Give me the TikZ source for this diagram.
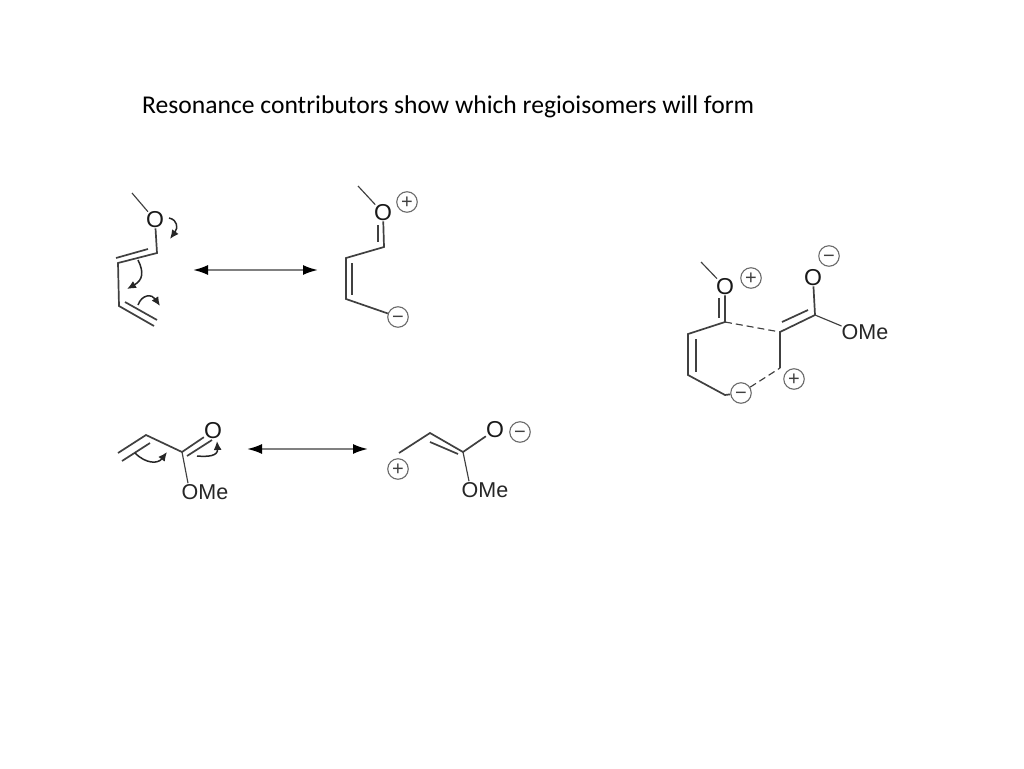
\documentclass[tikz,border=0pt]{standalone}
\usepackage{fontspec}
\setmainfont{Liberation Sans}
\newfontfamily\titlefont{Carlito}
\usetikzlibrary{arrows.meta}
\definecolor{bondc}{gray}{0.25}
\definecolor{ringc}{gray}{0.42}
\tikzset{
  x=1pt,y=-1pt,
  bond/.style={draw=bondc,line width=1.7pt},
  thin bond/.style={draw=bondc,line width=1.15pt},
  dash bond/.style={draw=bondc,line width=1.15pt,dash pattern=on 7pt off 4pt},
  atom/.style={inner sep=0pt,font=\fontsize{23}{23}\selectfont,text=black!90},
  group/.style={inner sep=0pt,font=\fontsize{21.5}{21.5}\selectfont,text=black!85},
  charge/.style={circle,draw=ringc,line width=1.1pt,minimum size=20.5pt,inner sep=0pt,text height=13pt,text depth=0pt,font=\fontsize{20}{20}\selectfont,text=black!75},
  curly/.style={draw=black!85,line width=1.5pt,-{Latex[length=9pt,width=8pt]}},
  reso/.style={draw=black!50,line width=2pt,{Latex[length=15pt,width=10pt,black]}-{Latex[length=15pt,width=10pt,black]}},
}
\begin{document}
\begin{tikzpicture}
\useasboundingbox (0,0) rectangle (1024,768);
\fill[white] (0,0) rectangle (1024,768);
\node[anchor=west,inner sep=0pt,font=\titlefont\fontsize{25.6}{25.6}\selectfont,text=black] (title) at (142,107) {Resonance contributors show which regioisomers will form};

% --- molecule A: diene
\node[atom] (aO) at (155,220) {O};
\coordinate (aMe) at (132,193);
\coordinate (a1) at (157,253);
\coordinate (a2) at (118,263);
\coordinate (a2b) at (116,258);
\coordinate (a1b) at (148,249);
\coordinate (a3) at (119,306);
\coordinate (a4) at (154,326);
\coordinate (a3b) at (125,302);
\coordinate (a4b) at (157,320);
\draw[thin bond] (aMe) -- (aO);
\draw[bond] (aO) -- (a1) -- (a2) -- (a3) -- (a4);
\draw[bond] (a2b) -- (a1b);
\draw[bond] (a3b) -- (a4b);
\coordinate (c1s) at (169,218);
\coordinate (c1e) at (170,239);
\coordinate (c2s) at (138,260);
\coordinate (c2e) at (127,289);
\coordinate (c3s) at (138,305);
\coordinate (c3e) at (160,306);
\draw[curly] (c1s) .. controls (178,220) and (178,228) .. (c1e);
\draw[curly] (c2s) .. controls (144,272) and (143,280) .. (c2e);
\draw[curly] (c3s) .. controls (142,294) and (152,294) .. (c3e);

\coordinate (r1a) at (193,270);
\coordinate (r1b) at (318,270);
\draw[reso] (r1a) -- (r1b);

% --- molecule B
\node[atom] (bO) at (383,213) {O};
\node[charge] (bP) at (407,202) {+};
\coordinate (bMe) at (358,186);
\coordinate (b1) at (384,247);
\coordinate (b2) at (346,258);
\coordinate (b3) at (346,299);
\coordinate (b4) at (382,318);
\coordinate (bOa) at (378,225);
\coordinate (bOb) at (378,242);
\coordinate (b2b) at (352,263);
\coordinate (b3b) at (352,295);
\node[charge] (bM) at (398,317) {−};
\draw[thin bond] (bMe) -- (bO);
\draw[bond] (bO) -- (b1) -- (b2) -- (b3) -- (bM);
\draw[bond] (bOa) -- (bOb);
\draw[bond] (b2b) -- (b3b);

% --- molecule C: acrylate
\node[atom] (cO) at (213,431) {O};
\node[group] (cOMe) at (205,492) {OMe};
\coordinate (c1) at (122,461);
\coordinate (c1x) at (118,453);
\coordinate (c2) at (150,443);
\coordinate (c2x) at (146,435);
\coordinate (c3) at (182,452);
\coordinate (c3x) at (187,456);
\coordinate (c4x) at (212,440);
\draw[bond] (c1) -- (c2);
\draw[bond] (c1x) -- (c2x) -- (c3) -- (cO);
\draw[bond] (c3x) -- (c4x);
\draw[thin bond] (c3) -- ([xshift=-17pt,yshift=1pt]cOMe.north);
\coordinate (d1s) at (135,453);
\coordinate (d1e) at (167,452);
\coordinate (d2s) at (197,456);
\coordinate (d2e) at (217,441);
\draw[curly] (d1s) .. controls (146,464) and (158,464) .. (d1e);
\draw[curly] (d2s) .. controls (208,457) and (218,456) .. (d2e);

\coordinate (r2a) at (247,449);
\coordinate (r2b) at (368,449);
\draw[reso] (r2a) -- (r2b);

% --- molecule D
\node[charge] (dP) at (398,469) {+};
\node[atom] (dO) at (495,430) {O};
\node[charge] (dM) at (520,432) {−};
\node[group] (dOMe) at (485,490) {OMe};
\coordinate (d1) at (399,453);
\coordinate (d2) at (430,433);
\coordinate (d3) at (463,452);
\coordinate (d2x) at (430,442);
\coordinate (d3x) at (458,454);
\draw[bond] (d1) -- (d2) -- (d3) -- (dO);
\draw[bond] (d2x) -- (d3x);
\draw[thin bond] (d3) -- ([xshift=-16pt,yshift=1pt]dOMe.north);

% --- molecule E: transition state
\node[atom] (eO) at (725,287) {O};
\node[charge] (eP1) at (751,278) {+};
\coordinate (eMe) at (701,262);
\coordinate (e1) at (725,322);
\coordinate (e2) at (688,334);
\coordinate (e3) at (688,375);
\coordinate (e4) at (725,395);
\coordinate (eOa) at (719,298);
\coordinate (eOb) at (719,318);
\coordinate (e2b) at (696,339);
\coordinate (e3b) at (696,372);
\node[charge] (eM1) at (741,393) {−};
\coordinate (e5) at (780,368);
\coordinate (e6) at (780,332);
\coordinate (e7) at (815,315);
\coordinate (e6b) at (782,322);
\coordinate (e7b) at (808,310);
\node[atom] (eO2) at (813,278) {O};
\node[charge] (eM2) at (829,256) {−};
\node[group] (eOMe) at (865,332) {OMe};
\node[charge] (eP2) at (794,379) {+};
\draw[thin bond] (eMe) -- (eO);
\draw[bond] (eO) -- (e1) -- (e2) -- (e3) -- (e4) -- (eM1);
\draw[bond] (eOa) -- (eOb);
\draw[bond] (e2b) -- (e3b);
\draw[dash bond] (e1) -- (e6);
\draw[dash bond] (eM1) -- (e5);
\draw[bond] (e5) -- (e6) -- (e7);
\draw[bond] (e6b) -- (e7b);
\draw[bond] (e7) -- (eO2);
\draw[thin bond] (e7) -- ([yshift=6pt]eOMe.west);
\end{tikzpicture}
\end{document}
